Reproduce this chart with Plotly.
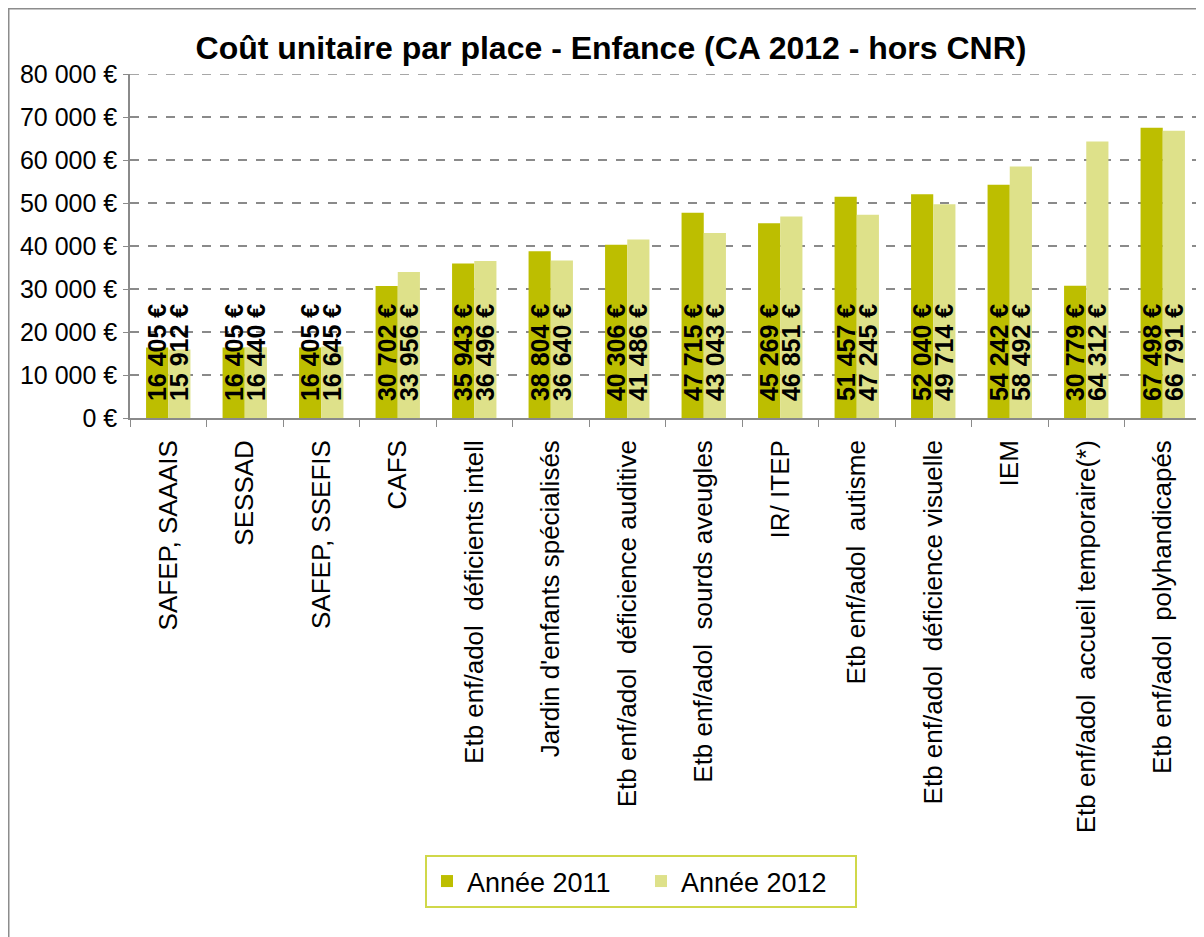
import plotly.graph_objects as go

categories = [
    "SAFEP, SAAAIS", "SESSAD", "SAFEP, SSEFIS", "CAFS",
    "Etb enf/adol \u00a0déficients intell", "Jardin d'enfants spécialisés",
    "Etb enf/adol \u00a0déficience auditive", "Etb enf/adol \u00a0sourds aveugles",
    "IR/ ITEP", "Etb enf/adol \u00a0autisme", "Etb enf/adol \u00a0déficience visuelle",
    "IEM", "Etb enf/adol \u00a0accueil temporaire(*)", "Etb enf/adol \u00a0polyhandicapés",
]
values_2011 = [16405, 16405, 16405, 30702, 35943, 38804, 40306, 47715, 45269, 51457, 52040, 54242, 30779, 67498]
values_2012 = [15912, 16440, 16645, 33956, 36496, 36640, 41486, 43043, 46851, 47245, 49714, 58492, 64312, 66791]
y_ticks = [0, 10000, 20000, 30000, 40000, 50000, 60000, 70000, 80000]
y_tick_labels = ["0 €", "10 000 €", "20 000 €", "30 000 €", "40 000 €", "50 000 €", "60 000 €", "70 000 €", "80 000 €"]
series_names = ["Année 2011", "Année 2012"]
colors = ["#BDBE00", "#DEE18A"]


def fmt(v):
    return "\u00a0\u00a0" + f"{v:,}".replace(",", " ") + " €"


fig = go.Figure()
for name, vals, col in zip(series_names, [values_2011, values_2012], colors):
    fig.add_trace(go.Bar(
        x=categories, y=vals, name=name, marker=dict(color=col, line=dict(width=0)),
        text=[fmt(v) for v in vals], textposition="inside", insidetextanchor="start",
        textangle=-90, constraintext="none",
        textfont=dict(family="Liberation Sans, Arial, sans-serif", size=25, color="black", weight="bold"),
        cliponaxis=False,
    ))

# page has an 8px body margin, so the figure covers page x 8..1204, y 8..937
W, H = 1196, 929
L, R, T, B = 122, 3, 66, 519
pw, ph = W - L - R, H - T - B

fig.update_layout(
    width=W, height=H,
    margin=dict(l=L, r=R, t=T, b=B),
    paper_bgcolor="white", plot_bgcolor="white",
    barmode="group", bargap=0.42, bargroupgap=0,
    font=dict(family="Liberation Sans, Arial, sans-serif", size=20, color="black"),
    title=dict(text="<b>Coût unitaire par place - Enfance (CA 2012 - hors CNR)</b>",
               x=603 / W, xanchor="center", y=1 - 40 / H, yanchor="middle",
               font=dict(size=32, color="black")),
    showlegend=True,
    legend=dict(orientation="h", x=(417 - L) / pw, xanchor="left",
                y=(T + ph - 847) / ph, yanchor="top",
                bordercolor="#D0D84A", borderwidth=2, bgcolor="white",
                font=dict(size=27), itemsizing="constant",
                entrywidthmode="pixels", entrywidth=169),
    shapes=[
        dict(type="rect", xref="paper", yref="paper",
             x0=(0.75 - L) / pw, x1=1.05, y0=-2.0, y1=1 + (T - 0.75) / ph,
             line=dict(color="#8c8c8c", width=1.5), fillcolor="rgba(0,0,0,0)", layer="below"),
        dict(type="line", xref="paper", yref="y", x0=0, x1=1, y0=80000, y1=80000,
             line=dict(color="#8a8a8a", width=1.5, dash="dash"), layer="below"),
    ],
)
fig.update_yaxes(range=[0, 80000], tickvals=y_ticks, ticktext=y_tick_labels,
                 showgrid=True, gridcolor="#8a8a8a", griddash="dash", gridwidth=1.5,
                 showline=True, linecolor="#8a8a8a", linewidth=1.5,
                 ticks="outside", ticklen=5, tickcolor="#8a8a8a", zeroline=False,
                 tickfont=dict(size=25), ticklabelstandoff=1)
fig.update_xaxes(tickangle=-90, showline=True, linecolor="#8a8a8a", linewidth=1.5,
                 ticks="outside", tickson="boundaries", ticklen=7, tickcolor="#8a8a8a",
                 tickfont=dict(size=26), showgrid=False, ticklabelstandoff=10)

fig.write_html("out.html")
